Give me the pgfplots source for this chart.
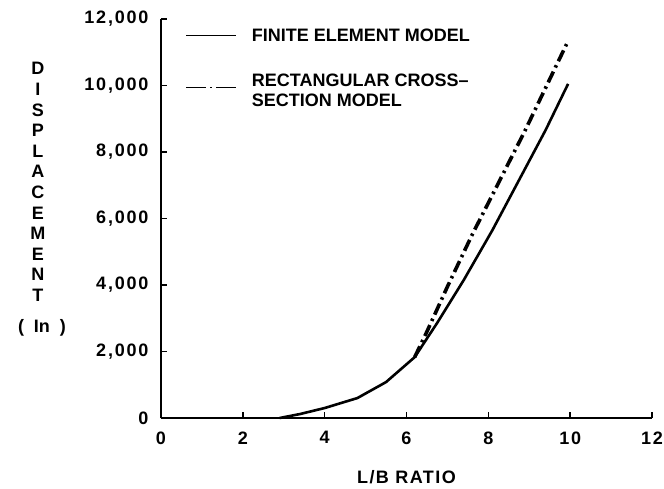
\documentclass[border=0pt]{standalone}
\usepackage{pgfplots}
\pgfplotsset{compat=1.18}
\usepackage{fontspec}
\setmainfont{Liberation Sans}
\newfontfamily\lsp[LetterSpace=10]{Liberation Sans}
\newfontfamily\lspx[LetterSpace=8]{Liberation Sans}
\begin{document}
\begin{tikzpicture}[x=1pt,y=1pt]
\useasboundingbox (-161pt,-70pt) rectangle (503pt,418pt);
\begin{axis}[
  scale only axis, clip=false,
  width=491pt, height=399pt,
  xmin=0, xmax=12, ymin=0, ymax=12000,
  axis x line*=bottom, axis y line*=left,
  axis line style={line width=2.2pt,-},
  xtick={0,2,...,12}, ytick={0,2000,...,12000},
  tick align=inside, major tick length=6pt,
  tick style={line width=1.5pt,black},
  /pgf/number format/assume math mode=true,
  /pgf/number format/1000 sep={,},
  scaled y ticks=false,
  tick label style={font=\lsp\bfseries\fontsize{18}{18}\selectfont},
  xticklabel style={yshift=-10pt},
  yticklabel style={xshift=-9pt},
  xlabel={L/B RATIO},
  xlabel style={font=\lspx\bfseries\fontsize{18}{18}\selectfont, at={(axis description cs:0.5,0)}, anchor=center, yshift=-59pt},
  legend style={draw=none, fill=none, at={(axis cs:0.59,11750)}, anchor=north west,
    font=\bfseries\fontsize{18}{20}\selectfont, row sep=42pt, inner sep=0pt,
    nodes={inner sep=1pt}},
  legend cell align=left,
  legend image code/.code={\draw[#1] (0pt,0pt) -- (50pt,0pt); \path (64pt,0pt);},
]
\addplot[black, line width=2.6pt, line join=round, forget plot] coordinates {
(2.9,0) (3.4,120) (4.0,300) (4.8,600) (5.5,1080) (6.2,1830) (6.75,2860) (7.4,4150) (8.1,5650) (9.4,8660) (9.95,10050)
};
\addplot[black, line width=3.6pt, dash pattern=on 12pt off 4.5pt on 2.5pt off 4.5pt, forget plot] coordinates {
(6.2,1830) (6.5,2600) (7.0,3950) (7.6,5500) (8.9,8650) (9.95,11340)
};
\addlegendimage{black, line width=1.6pt}
\addlegendentry{FINITE ELEMENT MODEL}
\addlegendimage{black, line width=1.6pt, dash pattern=on 20pt off 4pt on 2pt off 4pt on 20pt}
\addlegendentry{\smash{\begin{tabular}[t]{@{}l@{}}RECTANGULAR CROSS--\\SECTION MODEL\end{tabular}}}
\node[font=\bfseries\fontsize{18}{20.6}\selectfont, align=center, anchor=center] at (axis description cs:0,0) [xshift=-123pt, yshift=236pt] {D\\I\\S\\P\\L\\A\\C\\E\\M\\E\\N\\T};
\node[font=\bfseries\fontsize{18}{18}\selectfont, anchor=center] at (axis description cs:0,0) [xshift=-119pt, yshift=90pt] {(\hspace{10pt}In\hspace{10pt})};
\end{axis}
\end{tikzpicture}
\end{document}
